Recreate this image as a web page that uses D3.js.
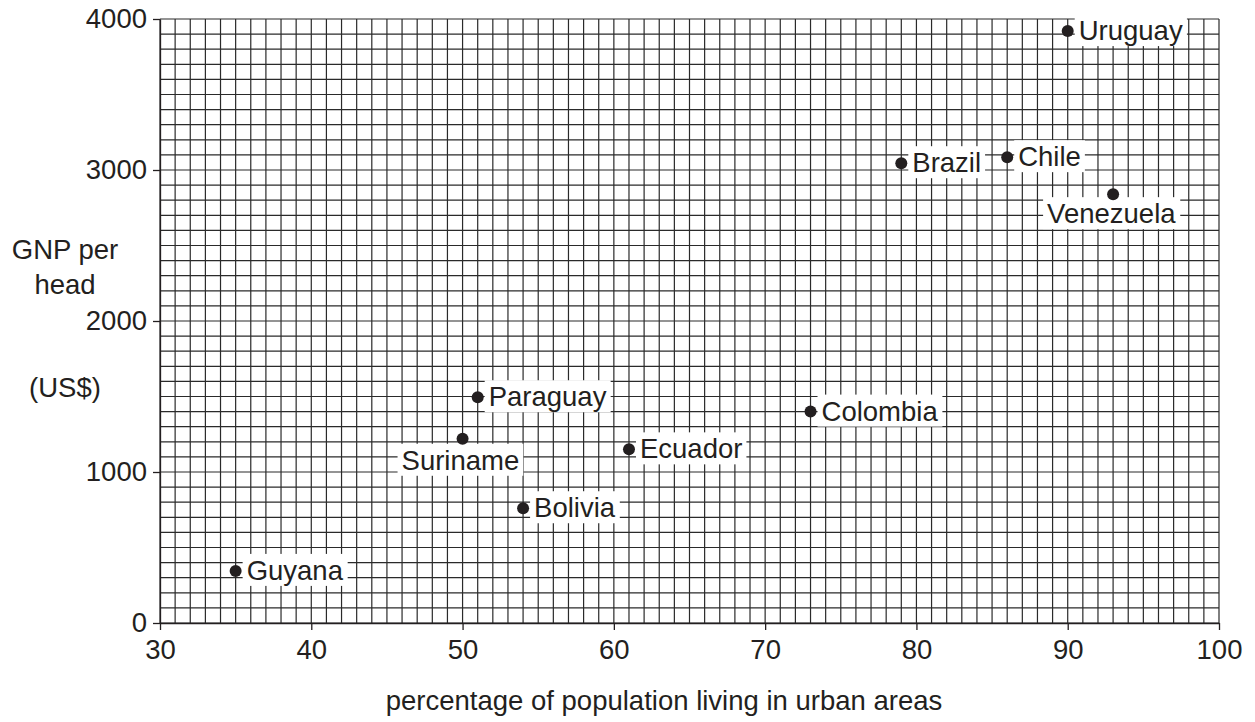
<!DOCTYPE html>
<html><head><meta charset="utf-8">
<script src="https://cdn.jsdelivr.net/npm/d3@7"></script>
<style>body{margin:0;background:#fff}svg{display:block}text{font-family:"Liberation Sans",Arial,sans-serif;fill:#231f20}</style>
</head><body><svg id="c" width="1255" height="722"></svg>
<script>
const countries = ["Uruguay","Brazil","Chile","Venezuela","Paraguay","Suriname","Ecuador","Colombia","Bolivia","Guyana"];
const urbanPct  = [90,79,86,93,51,50,61,73,54,35];
const gnpPerHead = [3920,3045,3085,2840,1495,1220,1150,1400,760,345];
const labelSide = ["right","right","right","below","right","belowLeft","right","right","right","right"];
const xTicks = [30,40,50,60,70,80,90,100];
const yTicks = [0,1000,2000,3000,4000];

const W=1255,H=722, m={l:160,r:36,t:19,b:99};
const FS=27.5;
const svg=d3.select("#c");
const x=d3.scaleLinear().domain([30,100]).range([m.l,W-m.r]);
const y=d3.scaleLinear().domain([0,4000]).range([H-m.b,m.t]);
const ink="#231f20";

// grid
const g=svg.append("g").attr("stroke","#2a2a2a").attr("stroke-width",1.2);
g.selectAll("line.v").data(d3.range(30,101,1)).join("line")
 .attr("x1",d=>x(d)).attr("x2",d=>x(d)).attr("y1",y(4000)).attr("y2",y(0));
g.selectAll("line.h").data(d3.range(0,4001,100)).join("line")
 .attr("y1",d=>y(d)).attr("y2",d=>y(d)).attr("x1",x(30)).attr("x2",x(100));

// axes
const xa=svg.append("g").attr("transform",`translate(0,${y(0)})`)
 .call(d3.axisBottom(x).tickValues(xTicks).tickFormat(d3.format("d")).tickSize(7).tickPadding(7).tickSizeOuter(0));
const ya=svg.append("g").attr("transform",`translate(${x(30)},0)`)
 .call(d3.axisLeft(y).tickValues(yTicks).tickFormat(d3.format("d")).tickSize(7).tickPadding(6).tickSizeOuter(0));
[xa,ya].forEach(a=>{a.select(".domain").attr("stroke",ink).attr("stroke-width",1.3);
 a.selectAll(".tick line").attr("stroke",ink).attr("stroke-width",1.3);
 a.selectAll("text").attr("font-size",FS).attr("font-family","Liberation Sans, Arial, sans-serif").attr("fill",ink);});
xa.selectAll(".tick text").attr("dy","0.8em");

// titles
svg.append("text").attr("x",664).attr("y",710).attr("text-anchor","middle").attr("font-size",FS).text("percentage of population living in urban areas");
svg.append("text").attr("x",65).attr("y",259).attr("text-anchor","middle").attr("font-size",FS).text("GNP per");
svg.append("text").attr("x",65).attr("y",294).attr("text-anchor","middle").attr("font-size",FS).text("head");
svg.append("text").attr("x",65).attr("y",397).attr("text-anchor","middle").attr("font-size",FS).text("(US$)");

// points and labels
const pts=svg.append("g");
countries.forEach((c,i)=>{
  const px=x(urbanPct[i]), py=y(gnpPerHead[i]);
  const grp=pts.append("g");
  const rect=grp.append("rect").attr("fill","#fff");
  let t=grp.append("text").attr("font-size",FS).text(c);
  if(labelSide[i]==="right"){t.attr("x",px+11).attr("y",py+9);}
  else if(labelSide[i]==="below"){t.attr("x",px-66).attr("y",py+29);}
  else {t.attr("x",px-61).attr("y",py+31);}
  const b=t.node().getBBox();
  rect.attr("x",b.x-4).attr("y",b.y-1).attr("width",b.width+8).attr("height",b.height+1);
  pts.append("circle").attr("cx",px).attr("cy",py).attr("r",6).attr("fill",ink);
});
</script></body></html>
